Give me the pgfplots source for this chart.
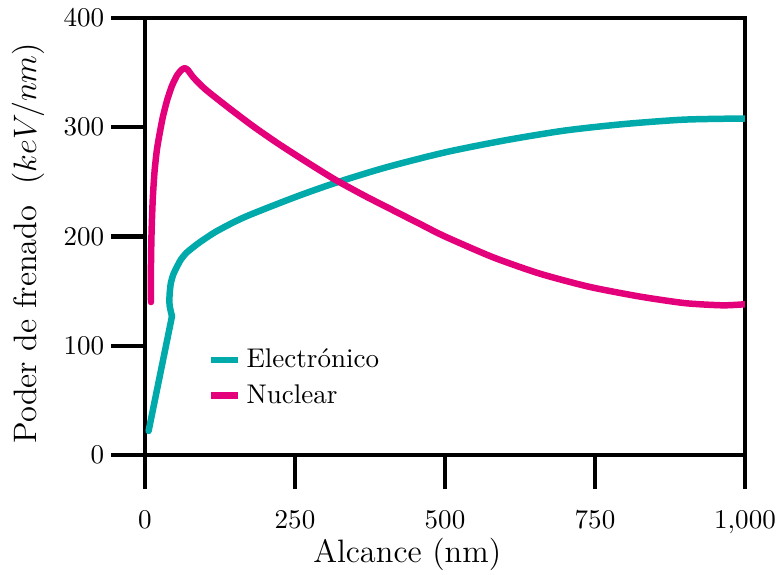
\documentclass[border=0pt]{standalone}
\usepackage{pgfplots}
\pgfplotsset{compat=1.18}

\definecolor{electron}{RGB}{0,170,170}
\definecolor{nuclear}{RGB}{228,0,122}

\begin{document}
\begin{tikzpicture}
\begin{axis}[
  name=ax,
  scale only axis,
  width=222pt, height=161.7pt,
  xmin=0, xmax=1000, ymin=0, ymax=400,
  xtick={0,250,500,750,1000},
  ytick={0,100,200,300,400},
  tick pos=left,
  tick align=outside,
  major tick length=12.6pt,
  axis line style={line width=1.5pt},
  every tick/.style={black, line width=1.5pt},
  xticklabel style={yshift=-4.5pt},
  yticklabel style={xshift=1pt},
  xlabel={\large Alcance (nm)},
  ylabel={\large Poder de frenado\ \ $(keV/nm)$},
  xlabel style={at={(axis description cs:0.437,-0.247)}, anchor=base},
  ylabel style={at={(axis description cs:-0.195,0.485)}, anchor=center, rotate=0},
  legend style={draw=none, fill=none, at={(axis description cs:0.09,0.27)},
    anchor=north west, row sep=0.8pt, font=\normalsize},
  legend cell align=left,
  legend image code/.code={\draw[#1, line cap=butt] (0pt,0pt) -- (10pt,0pt);},
  every axis plot/.append style={line width=2.4pt, line join=round, line cap=round},
]
% Electronic stopping power: linear rise up to the kink
\addplot[electron, mark=none, forget plot] coordinates {
  (6,22) (45,127)
};
% Electronic stopping power: smooth part after the kink
\addplot[electron, mark=none, smooth, tension=0.45] coordinates {
  (45,127) (41,137) (41,147) (43,157) (47,165) (53,172) (60,179)
  (69,185) (80,190) (92,195) (120,205) (167,218) (250,236) (317,249)
  (400,263) (500,277) (600,288) (700,297) (800,303) (900,307) (1000,308)
};
\addlegendentry{Electrónico}
% Nuclear stopping power
\addplot[nuclear, mark=none, smooth, tension=0.4] coordinates {
  (10,140) (10,175) (11,205) (13,235) (16,260) (20,280) (25,296) (30,310)
  (37,325) (45,338) (54,348) (62,353) (67,354) (72,352) (80,346) (100,335)
  (139,318) (180,301) (222,285) (270,268) (317,252) (367,237) (417,223)
  (460,211) (500,200) (580,181) (658,166) (740,154) (825,145) (900,139)
  (963,137) (1000,138)
};
\addlegendentry{Nuclear}
\end{axis}
\pgfresetboundingbox
\path[use as bounding box] ([shift={(-53.65pt,-44.03pt)}]ax.south west)
  rectangle ([shift={(233.47pt,168.35pt)}]ax.south west);
\end{tikzpicture}
\end{document}
